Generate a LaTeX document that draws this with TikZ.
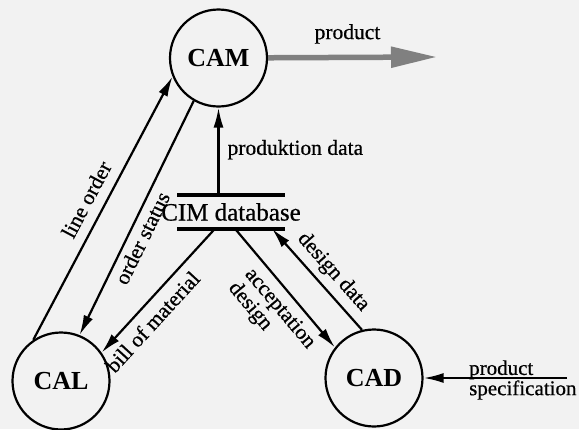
\documentclass[tikz,border=0pt]{standalone}
\usepackage{fontspec}
\setmainfont{Liberation Serif}
\newfontfamily\printfont{Liberation Serif}[FakeBold = 0.6]
\usetikzlibrary{arrows.meta}

\tikzset{
	station/.style = {draw, circle, line width = 2.2pt, minimum size = 97pt, inner sep = 0pt, font = \fontsize{26}{26}\selectfont\bfseries},
	flow/.style = {->, line width = 2.2pt},
	lbl/.style = {font = \printfont\fontsize{21.5}{21.5}\selectfont, inner sep = 2pt},
	storeline/.style = {line width = 3.8pt}
}

\begin{document}
\begin{tikzpicture}[x = 1pt, y = -1pt, > = {Latex[length = 20pt, width = 10pt]}]

	\useasboundingbox [fill = black!5] (0, 0) rectangle (579, 429);

	% Stations

	\node [station] (CAM) at (218.5, 58) {CAM};
	\node [station] (CAL) at (61, 381) {CAL};
	\node [station] (CAD) at (374, 378) {CAD};

	% CIM database (store between two bars)

	\node [font = \printfont\fontsize{25}{25}\selectfont, inner sep = 0pt, minimum height = 33pt] (CIM) at (231, 212) {CIM database};
	\draw [storeline] ([xshift = -54pt] CIM.north) -- ([xshift = 54pt] CIM.north);
	\draw [storeline] ([xshift = -54pt] CIM.south) -- ([xshift = 54pt] CIM.south);

	% Free ends

	\coordinate (market) at (437, 57);
	\coordinate (spec) at (567, 378);

	% Product out of CAM

	\draw [line width = 5.5pt, black!50, -{Triangle[length = 46pt, width = 20pt]}] (CAM) -- (market) node [lbl, black, above = 9pt, pos = 0.47] {product};

	% Flows between stations and database

	\draw [flow] ([xshift = -12.5pt] CIM.north) -- (CAM.south) node [lbl, right = 6pt, pos = 0.52] {produktion data};
	\draw [flow] (CAL.124) -- (CAM.202) node [lbl, sloped, above = 8pt, pos = 0.5] {line order};
	\draw [flow] (CAM.240) -- (CAL.68) node [lbl, sloped, below = 3pt, pos = 0.56] {order status};
	\draw [flow] ([xshift = -16pt] CIM.south) -- (CAL.35) node [lbl, sloped, below = 6pt, pos = 0.66] {bill of material};
	\draw [flow] ([xshift = 4pt] CIM.south) -- (CAD.142) node [lbl, sloped, below = 5pt, pos = 0.58, align = left] {acceptation\\design};
	\draw [flow] (CAD.104) -- ([xshift = 41pt] CIM.south) node [lbl, sloped, above = 4pt, pos = 0.46] {design data};

	% Specification into CAD

	\draw [flow] (spec) -- (CAD);
	\node [lbl, font = \printfont\fontsize{21}{18.5}\selectfont, align = left, anchor = west] (spectext) at (467, 380) {product\\specification};

\end{tikzpicture}
\end{document}
